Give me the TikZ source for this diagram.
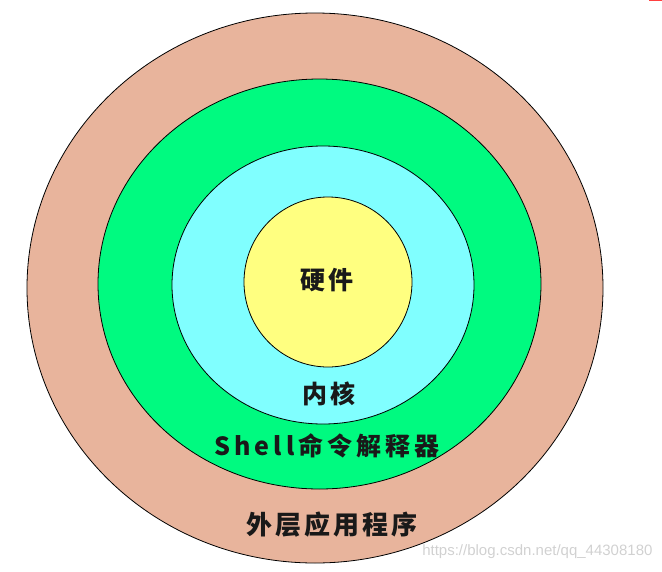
\documentclass[tikz,border=0pt]{standalone}
\usepackage{fontspec}
\usepackage{tikz}
\usetikzlibrary{shapes.geometric}
\newfontfamily\cjk[LetterSpace=12]{Noto Sans CJK SC}
\newfontfamily\cjkwide[LetterSpace=16]{Noto Sans CJK SC}
\setsansfont{Liberation Sans}
\definecolor{apppink}{RGB}{232,180,156}
\definecolor{shellgreen}{RGB}{0,250,128}
\definecolor{kernelcyan}{RGB}{128,255,255}
\definecolor{hwyellow}{RGB}{255,255,128}

\begin{document}
\begin{tikzpicture}
        [
            x = 1pt, y = -1pt,
            layer/.style = {ellipse, draw = black, line width = 0.8pt, inner sep = 0pt},
            layername/.style = {font = \cjk\bfseries\fontsize{25}{25}\selectfont, text = black!90}
        ]
        \useasboundingbox (0,0) rectangle (662,571);

        \node [layer, fill = apppink, minimum width = 576pt, minimum height = 550pt] (app) at (315,288) {};
        \node [layer, fill = shellgreen, minimum width = 443pt, minimum height = 410pt] (shell) at (319.5,284) {};
        \node [layer, fill = kernelcyan, minimum width = 302pt, minimum height = 278pt] (kernel) at (323,285) {};
        \node [layer, fill = hwyellow, minimum width = 168pt, minimum height = 170pt] (hw) at (328,282) {};

        \node [layername] (hwtext) at (327,280) {硬件};
        \node [layername] (kerneltext) at (329,394) {内核};
        \node [layername, font = \cjkwide\bfseries\fontsize{25}{25}\selectfont] (shelltext) at (327,446) {Shell命令解释器};
        \node [layername, font = \cjk\bfseries\fontsize{26}{26}\selectfont] (apptext) at (332,525) {外层应用程序};

        \node [anchor = east, text = black!18, font = \sffamily\fontsize{15}{15}\selectfont] (mark) at (656,552) {https://blog.csdn.net/qq\_44308180};
        \fill [red!75] (649,0) rectangle (662,1.2);
    \end{tikzpicture}
\end{document}
